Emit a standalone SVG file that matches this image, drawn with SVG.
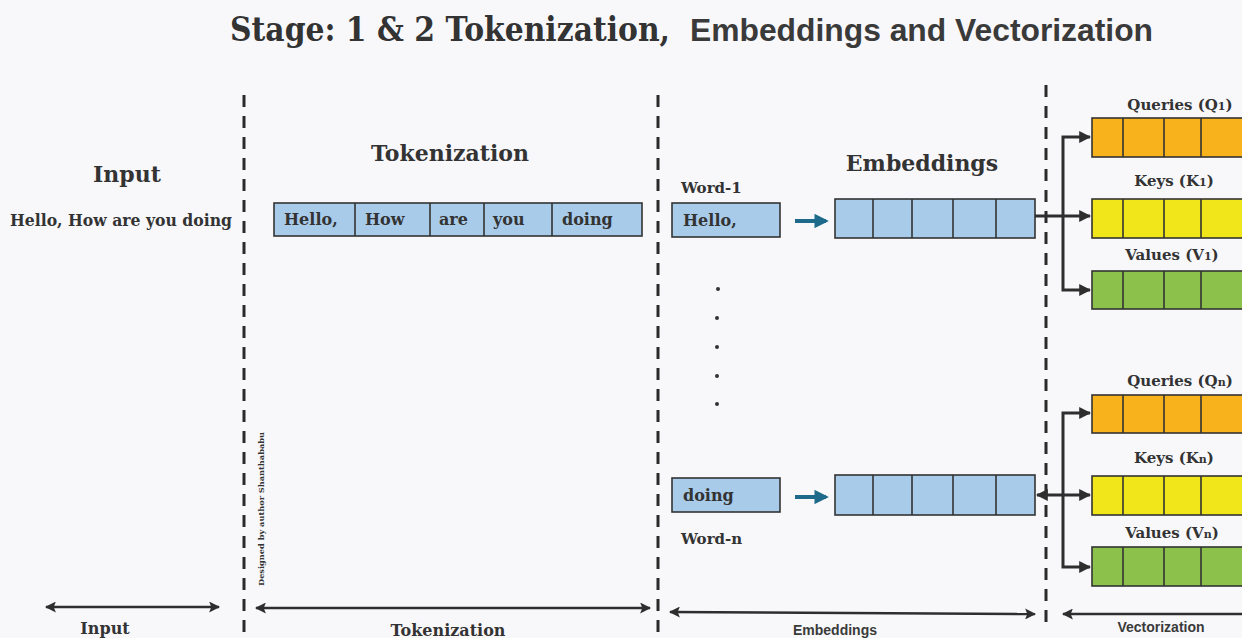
<svg xmlns="http://www.w3.org/2000/svg" width="1242" height="638" viewBox="0 0 1242 638">
  <style>
    .serif { font-family: "DejaVu Serif", "Liberation Serif", serif; font-weight: bold; fill: #333; }
    .sans { font-family: "Liberation Sans", Arial, sans-serif; font-weight: bold; fill: #3a3a3a; }
    .divider { stroke: #2a2a2a; stroke-width: 3; stroke-dasharray: 12 9; fill: none; }
    .cell { stroke: #333; stroke-width: 1.6; }
    .blue { fill: #a8cbea; }
    .orange { fill: #f8b21c; }
    .yellow { fill: #f1e619; }
    .green { fill: #8cc24c; }
    .wire { stroke: #2e2e2e; stroke-width: 3; fill: none; }
    .span { stroke: #2e2e2e; stroke-width: 2.5; fill: none; }
  </style>
  <defs>
    <marker id="head" viewBox="0 0 10 10" refX="9" refY="5" markerWidth="4" markerHeight="4" orient="auto-start-reverse">
      <path d="M0,0 L10,5 L0,10 z" fill="#2e2e2e"/>
    </marker>
    <marker id="spanHead" viewBox="0 0 10 10" refX="9" refY="5" markerWidth="4.4" markerHeight="4.4" orient="auto-start-reverse">
      <path d="M0,0 L10,5 L0,10 L2,5 z" fill="#2e2e2e"/>
    </marker>
    <marker id="tealHead" viewBox="0 0 10 10" refX="8" refY="5" markerWidth="3.6" markerHeight="3.6" orient="auto">
      <path d="M0,0 L10,5 L0,10 z" fill="#1d6a8a"/>
    </marker>
  </defs>

  <rect x="0" y="0" width="1242" height="638" fill="#f8f8fb"/>

  <!-- title -->
  <text x="230" y="41" class="serif" font-size="34" textLength="440" lengthAdjust="spacingAndGlyphs">Stage: 1 &amp; 2 Tokenization,</text>
  <text x="690" y="41" class="sans" font-size="31" textLength="463" lengthAdjust="spacingAndGlyphs">Embeddings and Vectorization</text>

  <!-- section dividers -->
  <g id="dividers">
    <line x1="244" y1="95" x2="244" y2="638" class="divider"/>
    <line x1="658" y1="95" x2="658" y2="638" class="divider"/>
    <line x1="1046" y1="85" x2="1046" y2="628" class="divider"/>
  </g>

  <!-- input stage -->
  <g id="input">
    <text x="127" y="182" class="serif" font-size="22" text-anchor="middle">Input</text>
    <text x="121" y="226" class="serif" font-size="16" text-anchor="middle" textLength="222" lengthAdjust="spacingAndGlyphs">Hello, How are you doing</text>
  </g>

  <!-- tokenization stage -->
  <g id="tokenization">
    <text x="450" y="161" class="serif" font-size="22" text-anchor="middle">Tokenization</text>
    <rect x="274" y="203" width="368" height="33" class="cell blue"/>
    <line x1="355" y1="203" x2="355" y2="236" class="cell"/>
    <line x1="430" y1="203" x2="430" y2="236" class="cell"/>
    <line x1="484" y1="203" x2="484" y2="236" class="cell"/>
    <line x1="552" y1="203" x2="552" y2="236" class="cell"/>
    <g class="serif" font-size="16">
      <text x="284" y="225">Hello,</text>
      <text x="365" y="225">How</text>
      <text x="439" y="225">are</text>
      <text x="493" y="225">you</text>
      <text x="562" y="225">doing</text>
    </g>
    <text transform="translate(264,586) rotate(-90)" class="serif" font-size="8" font-weight="normal" textLength="154" lengthAdjust="spacingAndGlyphs">Designed by author Shanthababu</text>
  </g>

  <!-- embeddings stage: first word -->
  <g id="word-1">
    <text x="681" y="193" class="serif" font-size="15">Word-1</text>
    <rect x="672" y="203" width="108" height="34" class="cell blue"/>
    <text x="683" y="226" class="serif" font-size="16">Hello,</text>
  </g>
  <g id="embedding-1">
    <text x="922" y="171" class="serif" font-size="22" text-anchor="middle">Embeddings</text>
    <rect x="835" y="199" width="200" height="39" class="cell blue"/>
    <line x1="873" y1="199" x2="873" y2="238" class="cell"/>
    <line x1="912" y1="199" x2="912" y2="238" class="cell"/>
    <line x1="953" y1="199" x2="953" y2="238" class="cell"/>
    <line x1="996" y1="199" x2="996" y2="238" class="cell"/>
  </g>

  <!-- ellipsis between words -->
  <g id="ellipsis" fill="#333">
    <circle cx="718" cy="289" r="2"/>
    <circle cx="717" cy="318" r="2"/>
    <circle cx="717" cy="347" r="2"/>
    <circle cx="717" cy="376" r="2"/>
    <circle cx="717" cy="404" r="2"/>
  </g>

  <!-- embeddings stage: last word -->
  <g id="word-n">
    <rect x="672" y="478" width="108" height="34" class="cell blue"/>
    <text x="683" y="501" class="serif" font-size="16">doing</text>
    <text x="681" y="544" class="serif" font-size="15">Word-n</text>
  </g>
  <g id="embedding-n">
    <rect x="835" y="475" width="200" height="40" class="cell blue"/>
    <line x1="873" y1="475" x2="873" y2="515" class="cell"/>
    <line x1="912" y1="475" x2="912" y2="515" class="cell"/>
    <line x1="953" y1="475" x2="953" y2="515" class="cell"/>
    <line x1="996" y1="475" x2="996" y2="515" class="cell"/>
  </g>

  <!-- vectorization: first word -->
  <g id="q1">
    <text x="1180" y="110" class="serif" font-size="15" text-anchor="middle">Queries (Q<tspan font-size="11">1</tspan>)</text>
    <rect x="1092" y="118" width="160" height="39" class="cell orange"/>
    <line x1="1123" y1="118" x2="1123" y2="157" class="cell"/>
    <line x1="1164" y1="118" x2="1164" y2="157" class="cell"/>
    <line x1="1201" y1="118" x2="1201" y2="157" class="cell"/>
  </g>
  <g id="k1">
    <text x="1174" y="186" class="serif" font-size="15" text-anchor="middle">Keys (K<tspan font-size="11">1</tspan>)</text>
    <rect x="1092" y="199" width="160" height="39" class="cell yellow"/>
    <line x1="1123" y1="199" x2="1123" y2="238" class="cell"/>
    <line x1="1164" y1="199" x2="1164" y2="238" class="cell"/>
    <line x1="1201" y1="199" x2="1201" y2="238" class="cell"/>
  </g>
  <g id="v1">
    <text x="1172" y="260" class="serif" font-size="15" text-anchor="middle">Values (V<tspan font-size="11">1</tspan>)</text>
    <rect x="1092" y="271" width="160" height="38" class="cell green"/>
    <line x1="1123" y1="271" x2="1123" y2="309" class="cell"/>
    <line x1="1164" y1="271" x2="1164" y2="309" class="cell"/>
    <line x1="1201" y1="271" x2="1201" y2="309" class="cell"/>
  </g>

  <!-- vectorization: last word -->
  <g id="qn">
    <text x="1180" y="386" class="serif" font-size="15" text-anchor="middle">Queries (Q<tspan font-size="11">n</tspan>)</text>
    <rect x="1092" y="395" width="160" height="38" class="cell orange"/>
    <line x1="1123" y1="395" x2="1123" y2="433" class="cell"/>
    <line x1="1164" y1="395" x2="1164" y2="433" class="cell"/>
    <line x1="1201" y1="395" x2="1201" y2="433" class="cell"/>
  </g>
  <g id="kn">
    <text x="1174" y="463" class="serif" font-size="15" text-anchor="middle">Keys (K<tspan font-size="11">n</tspan>)</text>
    <rect x="1092" y="476" width="160" height="39" class="cell yellow"/>
    <line x1="1123" y1="476" x2="1123" y2="515" class="cell"/>
    <line x1="1164" y1="476" x2="1164" y2="515" class="cell"/>
    <line x1="1201" y1="476" x2="1201" y2="515" class="cell"/>
  </g>
  <g id="vn">
    <text x="1172" y="538" class="serif" font-size="15" text-anchor="middle">Values (V<tspan font-size="11">n</tspan>)</text>
    <rect x="1092" y="547" width="160" height="39" class="cell green"/>
    <line x1="1123" y1="547" x2="1123" y2="586" class="cell"/>
    <line x1="1164" y1="547" x2="1164" y2="586" class="cell"/>
    <line x1="1201" y1="547" x2="1201" y2="586" class="cell"/>
  </g>

  <!-- connectors -->
  <g id="connectors">
    <line x1="795" y1="221" x2="826" y2="221" stroke="#1d6a8a" stroke-width="4" marker-end="url(#tealHead)"/>
    <line x1="795" y1="497" x2="826" y2="497" stroke="#1d6a8a" stroke-width="4" marker-end="url(#tealHead)"/>

    <line x1="1035" y1="216" x2="1064" y2="216" class="wire" stroke-width="4"/>
    <path d="M1090,137 H1063 V290 H1090" class="wire" marker-start="url(#head)" marker-end="url(#head)"/>
    <line x1="1063" y1="216" x2="1090" y2="216" class="wire" marker-end="url(#head)"/>

    <line x1="1064" y1="495" x2="1037" y2="495" class="wire" stroke-width="4" marker-end="url(#head)"/>
    <path d="M1090,413 H1063 V567 H1090" class="wire" marker-start="url(#head)" marker-end="url(#head)"/>
    <line x1="1063" y1="495" x2="1090" y2="495" class="wire" marker-end="url(#head)"/>

    <line x1="46" y1="607" x2="219" y2="607" class="span" marker-start="url(#spanHead)" marker-end="url(#spanHead)"/>
    <line x1="256" y1="608" x2="650" y2="608" class="span" marker-start="url(#spanHead)" marker-end="url(#spanHead)"/>
    <line x1="670" y1="612" x2="1035" y2="614" class="span" marker-start="url(#spanHead)" marker-end="url(#spanHead)"/>
    <line x1="1063" y1="614" x2="1242" y2="614" class="span" marker-start="url(#spanHead)"/>
  </g>

  <!-- stage captions -->
  <g id="captions">
    <text x="105" y="634" class="serif" font-size="16" text-anchor="middle">Input</text>
    <text x="448" y="636" class="serif" font-size="16" text-anchor="middle">Tokenization</text>
    <text x="835" y="635" class="sans" font-size="14" text-anchor="middle">Embeddings</text>
    <text x="1161" y="632" class="sans" font-size="14" text-anchor="middle">Vectorization</text>
  </g>
</svg>
